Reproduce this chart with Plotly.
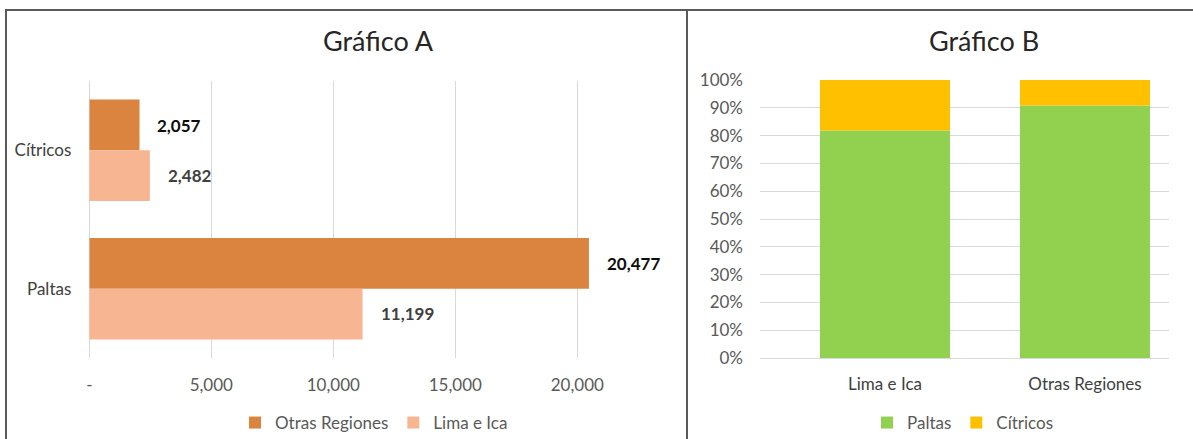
import plotly.graph_objects as go

# ---- data ----
categories_a = ["Cítricos", "Paltas"]
otras_regiones = [2057, 20477]
lima_ica = [2482, 11199]

regions_b = ["Lima e Ica", "Otras Regiones"]
x_tickvals = [0, 5000, 10000, 15000, 20000]
x_ticktext = ["-", "5,000", "10,000", "15,000", "20,000"]

# chart B shares (derived from chart A values)
paltas_tot = [lima_ica[1], otras_regiones[1]]
citricos_tot = [lima_ica[0], otras_regiones[0]]
paltas_share = [p / (p + c) for p, c in zip(paltas_tot, citricos_tot)]
citricos_share = [c / (p + c) for p, c in zip(paltas_tot, citricos_tot)]

W, H = 1193, 439
FONT = "Lato"
FS = 17
C_OTRAS = "#DB843F"
C_LIMA = "#F8B591"
C_PALTAS = "#92D050"
C_CITR = "#FFC000"
GRID = "#D9D9D9"

def px(x):
    return x / W

def py(y):
    return 1 - y / H

fig = go.Figure()

bw = 0.367
fig.add_trace(go.Bar(
    y=categories_a, x=otras_regiones, orientation="h", name="Otras Regiones",
    marker=dict(color=C_OTRAS, line=dict(width=0)), width=bw, offset=-bw,
    xaxis="x", yaxis="y", legend="legend", hoverinfo="x+name",
))
fig.add_trace(go.Bar(
    y=categories_a, x=lima_ica, orientation="h", name="Lima e Ica",
    marker=dict(color=C_LIMA, line=dict(width=0)), width=bw, offset=0,
    xaxis="x", yaxis="y", legend="legend", hoverinfo="x+name",
))

fig.add_trace(go.Bar(
    x=regions_b, y=paltas_share, name="Paltas",
    marker=dict(color=C_PALTAS, line=dict(width=0)), width=0.65,
    xaxis="x2", yaxis="y2", legend="legend2",
))
fig.add_trace(go.Bar(
    x=regions_b, y=citricos_share, base=paltas_share, name="Cítricos",
    marker=dict(color=C_CITR, line=dict(width=0)), width=0.65,
    xaxis="x2", yaxis="y2", legend="legend2",
))

annotations = []
# data labels chart A
for cat, v in zip(categories_a, otras_regiones):
    annotations.append(dict(
        x=v, y=cat, xref="x", yref="y", text=f"<b>{v:,}</b>", showarrow=False,
        xanchor="left", yanchor="middle", xshift=16, yshift=25,
        font=dict(family=FONT, size=FS, color="#0D0D0D"),
    ))
for cat, v in zip(categories_a, lima_ica):
    annotations.append(dict(
        x=v, y=cat, xref="x", yref="y", text=f"<b>{v:,}</b>", showarrow=False,
        xanchor="left", yanchor="middle", xshift=16, yshift=-25,
        font=dict(family=FONT, size=FS, color="#404040"),
    ))
# titles
annotations.append(dict(x=px(378), y=py(40), xref="paper", yref="paper", text="Gráfico A",
                        showarrow=False, xanchor="center", yanchor="middle",
                        font=dict(family=FONT, size=27, color="#262626")))
annotations.append(dict(x=px(984), y=py(40), xref="paper", yref="paper", text="Gráfico B",
                        showarrow=False, xanchor="center", yanchor="middle",
                        font=dict(family=FONT, size=27, color="#262626")))

shapes = [
    dict(type="line", xref="paper", yref="paper", x0=px(5), x1=1, y0=py(10), y1=py(10),
         line=dict(color="#595959", width=2)),
    dict(type="line", xref="paper", yref="paper", x0=px(6), x1=px(6), y0=py(10), y1=0,
         line=dict(color="#595959", width=2)),
    dict(type="line", xref="paper", yref="paper", x0=px(687), x1=px(687), y0=py(10), y1=0,
         line=dict(color="#595959", width=2)),
]

px_per_unit = 24.4 / 1000
a_left, a_right = 89.3, 665

fig.update_layout(
    width=W, height=H, margin=dict(l=0, r=0, t=0, b=0, autoexpand=False),
    paper_bgcolor="white", plot_bgcolor="white",
    barmode="overlay", showlegend=True,
    font=dict(family=FONT, color="#595959"),
    xaxis=dict(domain=[px(a_left), px(a_right)],
               range=[0, (a_right - a_left) / px_per_unit],
               tickvals=x_tickvals, ticktext=x_ticktext,
               showgrid=True, gridcolor=GRID, gridwidth=1,
               zeroline=True, zerolinecolor=GRID, zerolinewidth=1,
               showline=False, ticks="", ticklabelstandoff=15,
               tickfont=dict(family=FONT, size=FS, color="#595959"),
               anchor="y", fixedrange=True, automargin=False),
    yaxis=dict(domain=[py(358), py(81)], autorange="reversed",
               showgrid=False, zeroline=False, showline=False, ticks="",
               ticklabelstandoff=17,
               tickfont=dict(family=FONT, size=FS, color="#404040"),
               anchor="x", fixedrange=True, automargin=False),
    xaxis2=dict(domain=[px(760), px(1169)], range=[-0.625, 1.42],
                showgrid=False, zeroline=False, showline=False, ticks="",
                ticklabelstandoff=14,
                tickfont=dict(family=FONT, size=FS, color="#404040"),
                anchor="y2", fixedrange=True, automargin=False),
    yaxis2=dict(domain=[py(358), py(80)], range=[0, 1], dtick=0.1, tick0=0,
                tickformat=".0%", showgrid=True, gridcolor=GRID, gridwidth=1,
                zeroline=True, zerolinecolor=GRID, zerolinewidth=1,
                showline=False, ticks="", ticklabelstandoff=16,
                tickfont=dict(family=FONT, size=FS, color="#595959"),
                anchor="x2", fixedrange=True, automargin=False),
    legend=dict(orientation="h", x=px(235), y=py(423), xanchor="left", yanchor="middle",
                font=dict(family=FONT, size=FS, color="#595959"),
                bgcolor="rgba(0,0,0,0)", itemclick=False, itemdoubleclick=False),
    legend2=dict(orientation="h", x=px(867), y=py(423), xanchor="left", yanchor="middle",
                 font=dict(family=FONT, size=FS, color="#595959"),
                 bgcolor="rgba(0,0,0,0)", itemclick=False, itemdoubleclick=False),
    annotations=annotations,
    shapes=shapes,
)

fig.write_html("out.html")
